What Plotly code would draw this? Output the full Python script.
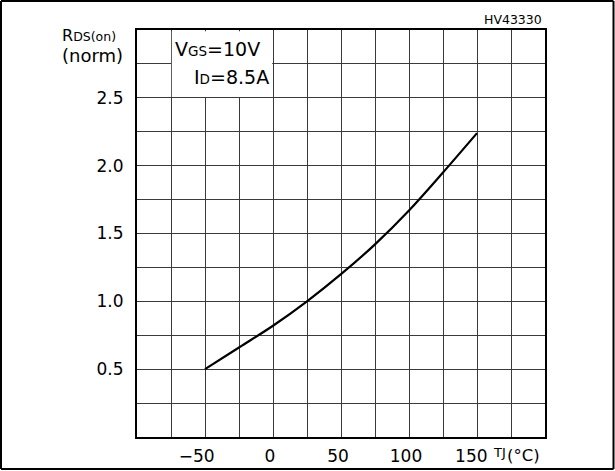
import plotly.graph_objects as go

# Data
temp_c = [-50, -25, 0, 25, 50, 75, 100, 125, 150]
rds_norm = [0.50, 0.66, 0.82, 1.00, 1.20, 1.42, 1.67, 1.95, 2.24]

x_tickvals = [-50, 0, 50, 100, 150]
x_ticktext = ["\u221250\u00a0\u00a0", "0", "50", "100", "150\u00a0"]
y_tickvals = [0.5, 1.0, 1.5, 2.0, 2.5]
y_ticktext = ["0.5", "1.0", "1.5", "2.0", "2.5"]

FONT = "DejaVu Sans"
W, H = 615, 471
ML, MR, MT, MB = 137, 70, 30, 34
pw = W - ML - MR
ph = H - MT - MB

def px_x(p):
    return (p - ML) / pw

def px_y(p):
    return (H - MB - p) / ph

fig = go.Figure()
fig.add_trace(go.Scatter(
    x=temp_c, y=rds_norm, mode="lines",
    line=dict(color="black", width=2.2, shape="spline", smoothing=1.0),
    showlegend=False, hoverinfo="skip",
))

grid_col = "#3a3a3a"
fig.update_xaxes(
    range=[-100, 200], tickvals=x_tickvals, ticktext=x_ticktext,
    showgrid=True, gridcolor=grid_col, gridwidth=1,
    minor=dict(dtick=25, tick0=0, showgrid=True, gridcolor=grid_col, gridwidth=1),
    showline=True, linecolor="black", linewidth=2, mirror=True,
    ticks="", zeroline=False, automargin=False,
    tickfont=dict(family=FONT, size=17, color="black"),
    ticklabelstandoff=3, ticklabelshift=-3,
)
fig.update_yaxes(
    range=[0, 3], tickvals=y_tickvals, ticktext=y_ticktext,
    showgrid=True, gridcolor=grid_col, gridwidth=1,
    minor=dict(dtick=0.25, tick0=0, showgrid=True, gridcolor=grid_col, gridwidth=1),
    showline=True, linecolor="black", linewidth=2, mirror=True,
    ticks="", zeroline=False, automargin=False,
    tickfont=dict(family=FONT, size=17, color="black"),
    ticklabelstandoff=8,
)

frame = dict(color="black", width=2)
fx0, fx1, fy0, fy1 = px_x(1), px_x(613.5), px_y(469), px_y(1)
shapes = [
    # white label box in the top-left cells
    dict(type="rect", xref="x", yref="y", x0=-74.4, x1=-0.6, y0=2.506, y1=2.99,
         fillcolor="white", line=dict(width=0), layer="above"),
    # outer frame
    dict(type="line", xref="paper", yref="paper", x0=fx0, x1=fx1, y0=fy1, y1=fy1, line=frame),
    dict(type="line", xref="paper", yref="paper", x0=fx0, x1=fx1, y0=fy0, y1=fy0, line=frame),
    dict(type="line", xref="paper", yref="paper", x0=fx0, x1=fx0, y0=fy0, y1=fy1, line=frame),
    dict(type="line", xref="paper", yref="paper", x0=fx1, x1=fx1, y0=fy0, y1=fy1, line=frame),
]

annotations = [
    dict(xref="paper", yref="paper", x=px_x(173), y=px_y(49), xanchor="left", yanchor="middle",
         text="V<span style='font-size:13.5px'>GS</span>=10V", showarrow=False,
         font=dict(family=FONT, size=19, color="black")),
    dict(xref="paper", yref="paper", x=px_x(271), y=px_y(77), xanchor="right", yanchor="middle",
         text="I<span style='font-size:13.5px'>D</span>=8.5A", showarrow=False,
         font=dict(family=FONT, size=19, color="black")),
    dict(xref="paper", yref="paper", x=px_x(60), y=px_y(46), xanchor="left", yanchor="middle",
         align="left",
         text=("<span style='font-size:16px'>R</span><span style='font-size:12.5px'>DS(on)</span>"
               "<br><span style='font-size:18px'>(norm)</span>"),
         showarrow=False,
         font=dict(family=FONT, size=16, color="black")),
    dict(xref="paper", yref="paper", x=px_x(544), y=px_y(20), xanchor="right", yanchor="middle",
         text="HV43330", showarrow=False,
         font=dict(family=FONT, size=12.5, color="black")),
    dict(xref="paper", yref="paper", x=px_x(491), y=px_y(452), xanchor="left", yanchor="middle",
         text="TJ", showarrow=False,
         font=dict(family=FONT, size=13, color="black")),
    dict(xref="paper", yref="paper", x=px_x(505), y=px_y(456), xanchor="left", yanchor="middle",
         text="(°C)", showarrow=False,
         font=dict(family=FONT, size=16.5, color="black")),
]

fig.update_layout(
    width=W, height=H,
    margin=dict(l=ML, r=MR, t=MT, b=MB, pad=0, autoexpand=False),
    paper_bgcolor="white", plot_bgcolor="white",
    shapes=shapes, annotations=annotations,
    showlegend=False,
)

fig.write_html("out.html", config={"displayModeBar": False},
               post_script="document.body.style.margin='0px';document.body.style.overflow='hidden';")
